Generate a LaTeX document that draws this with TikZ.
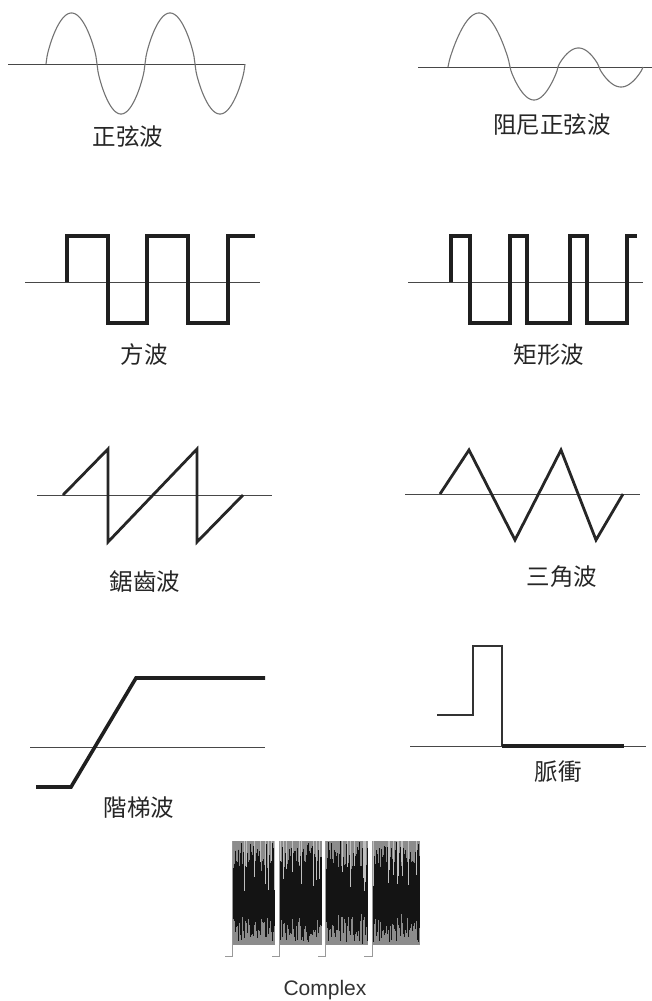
\documentclass[tikz,border=0pt]{standalone}
\usepackage{fontspec}
\newfontfamily\cjk{Noto Sans CJK TC}
\newfontfamily\arialike{Liberation Sans}
\tikzstyle{axis} = [draw=black!72, line width=0.9pt]
\tikzstyle{thinwave} = [draw=black!55, line width=1.1pt]
\tikzstyle{thickwave} = [draw=black!88, line width=3.6pt, line join=miter]
\tikzstyle{midwave} = [draw=black!85, line width=2.8pt, line join=miter]
\tikzstyle{wavename} = [font=\cjk\fontsize{23.5}{23.5}\selectfont, text=black!85, inner sep=0pt]

\begin{document}
\begin{tikzpicture}[x=1pt,y=-1pt]
  \useasboundingbox (0,0) rectangle (652,1001);

  % sine
  \draw[axis] (8,64) -- (245,64);
  \foreach \s/\w/\a in {46/51/51, 97/48/-50, 145/50/51, 195/50/-50}
    \draw[thinwave] plot[domain=0:180, samples=50, variable=\t]
      ({\s+\w*\t/180}, {64-\a*pow(abs(sin(\t))+0.0001,0.7)});
  \node[wavename] (sine) at (128,137) {正弦波};

  % damped sine
  \draw[axis] (418,67) -- (652,67);
  \foreach \s/\w/\a in {448/62/54, 510/48/-33, 558/41/19, 599/44/-20}
    \draw[thinwave] plot[domain=0:180, samples=50, variable=\t]
      ({\s+\w*\t/180}, {67-\a*pow(abs(sin(\t))+0.0001,0.8)});
  \node[wavename] (damped) at (552,125) {阻尼正弦波};

  % square
  \draw[axis] (25,282) -- (260,282);
  \draw[thickwave] (67,282) -- (67,236) -- (108,236) -- (108,323) -- (147,323)
    -- (147,236) -- (188,236) -- (188,323) -- (228,323) -- (228,236) -- (255,236);
  \node[wavename] (square) at (144,355) {方波};

  % rectangle
  \draw[axis] (408,282) -- (643,282);
  \draw[thickwave] (451,282) -- (451,236) -- (470,236) -- (470,323) -- (510,323)
    -- (510,236) -- (527,236) -- (527,323) -- (570,323) -- (570,236) -- (587,236)
    -- (587,323) -- (627,323) -- (627,236) -- (637,236);
  \node[wavename] (rect) at (549,355) {矩形波};

  % sawtooth
  \draw[axis] (37,495) -- (272,495);
  \draw[midwave] (63,495) -- (108,449) -- (108,542) -- (197,449) -- (197,542) -- (243,495);
  \node[wavename] (saw) at (145,582) {鋸齒波};

  % triangle
  \draw[axis] (405,494) -- (640,494);
  \draw[midwave] (440,494) -- (469,450) -- (515,540) -- (561,450) -- (596,540) -- (623,494);
  \node[wavename] (tri) at (562,577) {三角波};

  % step
  \draw[axis] (30,747) -- (265,747);
  \draw[thickwave] (36,787) -- (71,787) -- (136,678) -- (265,678);
  \node[wavename] (step) at (139,808) {階梯波};

  % pulse
  \draw[axis] (410,746) -- (646,746);
  \draw[midwave, draw=black!80] (437,715) -- (473,715) -- (473,646) -- (502,646) -- (502,746);
  \draw[thickwave] (502,746) -- (624,746);
  \node[wavename] (pulse) at (558,772) {脈衝};

  % complex
  \pgfmathsetseed{11}
  \foreach \bx/\bw/\lx in {232/43/225, 279/43/272, 325/43/318, 372/48/364} {
    \fill[black!45] (\bx,841) rectangle ++(\bw,104);
    \foreach \i in {0,...,56} {
      \pgfmathsetmacro\h{24+26*rnd}
      \pgfmathsetmacro\d{6*rnd-3}
      \draw[black!92, line width=0.8pt] ({\bx+\bw*\i/57},{893+\d-\h}) -- ++(0,{2*\h});
    }
    \foreach \i in {0,...,9} {
      \pgfmathsetmacro\p{\bx+\bw*rnd}
      \pgfmathsetmacro\h{20+30*rnd}
      \draw[black!25, line width=0.5pt] (\p,841) -- ++(0,\h);
    }
    \draw[black!40, line width=0.8pt] (\lx,956) -| (\bx,841);
  }
  \node[font=\arialike\fontsize{21}{21}\selectfont, text=black!80, inner sep=0pt]
    (complex) at (325,990) {Complex};
\end{tikzpicture}
\end{document}
